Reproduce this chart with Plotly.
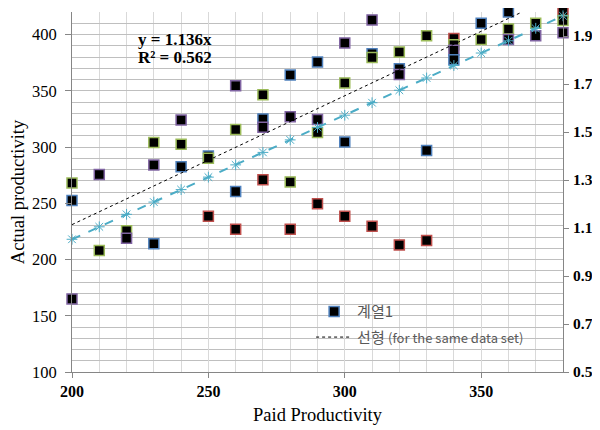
import plotly.graph_objects as go

# ---- data ----
paid = [200, 200, 200,
        210, 210,
        220, 220,
        230, 230, 230,
        240, 240, 240,
        250, 250, 250,
        260, 260, 260, 260,
        270, 270, 270, 270,
        280, 280, 280, 280,
        290, 290, 290, 290,
        300, 300, 300, 300,
        310, 310, 310, 310,
        320, 320, 320, 320,
        330, 330, 330,
        340, 340, 340, 340,
        350, 350,
        360, 360, 360,
        370, 370,
        380, 380, 380]
actual = [268, 252.5, 165,
          275.5, 208,
          225.5, 219,
          304, 284, 214,
          324, 302.5, 282.5,
          292, 290, 238.5,
          354.5, 315.5, 260.5, 227,
          346.5, 325, 317.5, 271,
          364, 327, 269, 227,
          375.5, 324.5, 313, 249.5,
          392.5, 357, 304.5, 238.5,
          413, 383, 379.5, 229.5,
          384.5, 369.5, 364.5, 213,
          399, 297, 217,
          396.5, 391, 386, 377.5,
          410, 395.5,
          420, 405, 395.5,
          410, 399,
          420, 412.5, 401.5]
group = ["G", "B", "P",
         "P", "G",
         "G", "P",
         "G", "P", "B",
         "P", "G", "B",
         "B", "G", "R",
         "P", "G", "B", "R",
         "G", "B", "P", "R",
         "B", "P", "G", "R",
         "B", "P", "G", "R",
         "P", "G", "B", "R",
         "P", "B", "G", "R",
         "G", "B", "P", "R",
         "G", "B", "R",
         "R", "G", "P", "B",
         "B", "G",
         "B", "G", "P",
         "G", "P",
         "R", "G", "P"]

# secondary-axis series (dashed, asterisks)
ratio_x = [200, 210, 220, 230, 240, 250, 260, 270, 280, 290,
           300, 310, 320, 330, 340, 350, 360, 370, 380]
ratio_y = [1.053, 1.105, 1.157, 1.208, 1.260, 1.312, 1.363, 1.415, 1.467, 1.519,
           1.570, 1.622, 1.674, 1.725, 1.777, 1.829, 1.880, 1.932, 1.984]

# trendline endpoints as drawn
trend_x = [200, 365]
trend_y = [231, 420]

eq_lines = ["y = 1.136x", "R² = 0.562"]

border_colors = {"B": "#4F81BD", "P": "#8064A2", "G": "#9BBB59", "R": "#C0504D"}
serif = "Liberation Serif"

fig = go.Figure()

fig.add_trace(go.Scatter(
    x=paid, y=actual, mode="markers", showlegend=False, cliponaxis=False,
    marker=dict(symbol="square", size=10, color="black",
                line=dict(color=[border_colors[g] for g in group], width=1.5)),
))

fig.add_trace(go.Scatter(
    x=[None], y=[None], mode="markers", name="계열1", legendgroup="a",
    marker=dict(symbol="square", size=10, color="black",
                line=dict(color="#4F81BD", width=1.5)),
))

fig.add_trace(go.Scatter(
    x=trend_x, y=trend_y, mode="lines", legendgroup="b",
    name="선형 <span style='font-size:13px'>(for the same data set)</span>",
    line=dict(color="black", width=1, dash="dot"),
))

fig.add_trace(go.Scatter(
    x=ratio_x, y=ratio_y, mode="lines+markers", yaxis="y2", showlegend=False,
    cliponaxis=False,
    line=dict(color="#4BACC6", width=2, dash="dash"),
    marker=dict(symbol="asterisk-open", size=9, color="#4BACC6",
                line=dict(color="#4BACC6", width=1)),
))

for txt, yv in zip(eq_lines, [395.5, 379.5]):
    fig.add_annotation(
        x=223.5, y=yv, xref="x", yref="y", xanchor="left", yanchor="middle",
        text=txt, showarrow=False, align="left",
        font=dict(family=serif, size=17, color="black", weight="bold"),
    )

fig.update_layout(
    width=592, height=422,
    margin=dict(l=64, r=37, t=4, b=58),
    paper_bgcolor="white", plot_bgcolor="white",
    xaxis=dict(
        range=[200, 380], dtick=50, tick0=200, automargin=False,
        showgrid=True, gridcolor="#D9D9D9", gridwidth=1,
        minor=dict(dtick=10, showgrid=True, gridcolor="#D9D9D9", gridwidth=1),
        showline=True, linecolor="#868686", linewidth=1,
        ticks="outside", ticklen=5, tickcolor="#868686",
        tickfont=dict(family=serif, size=16, color="black", weight="bold"),
        title=dict(text="Paid Productivity", font=dict(family=serif, size=18.5, color="black"),
                   standoff=8),
        zeroline=False,
    ),
    yaxis=dict(
        range=[100, 420], dtick=50, tick0=100, automargin=False,
        showgrid=True, gridcolor="#BFBFBF", gridwidth=1,
        minor=dict(dtick=10, showgrid=True, gridcolor="#BFBFBF", gridwidth=1),
        showline=True, linecolor="#868686", linewidth=1,
        ticks="outside", ticklen=6, tickcolor="#868686", ticklabelstandoff=5,
        tickfont=dict(family=serif, size=16.5, color="black"),
        title=dict(text="Actual productivity", font=dict(family=serif, size=18.5, color="black"),
                   standoff=8),
        zeroline=False,
    ),
    yaxis2=dict(
        range=[0.5, 2.0], dtick=0.2, tick0=0.5, overlaying="y", side="right",
        automargin=False,
        showgrid=False, showline=True, linecolor="#868686", linewidth=1,
        ticks="outside", ticklen=5, tickcolor="#868686", ticklabelstandoff=1,
        tickformat=".1f",
        tickfont=dict(family=serif, size=15.5, color="black", weight="bold"),
        zeroline=False,
    ),
    legend=dict(
        x=0.487, y=0.213, xanchor="left", yanchor="top",
        bgcolor="rgba(0,0,0,0)",
        font=dict(family="Noto Sans CJK KR", size=15, color="#595959"),
        itemwidth=36, tracegroupgap=3,
    ),
)

fig.write_html("out.html")
